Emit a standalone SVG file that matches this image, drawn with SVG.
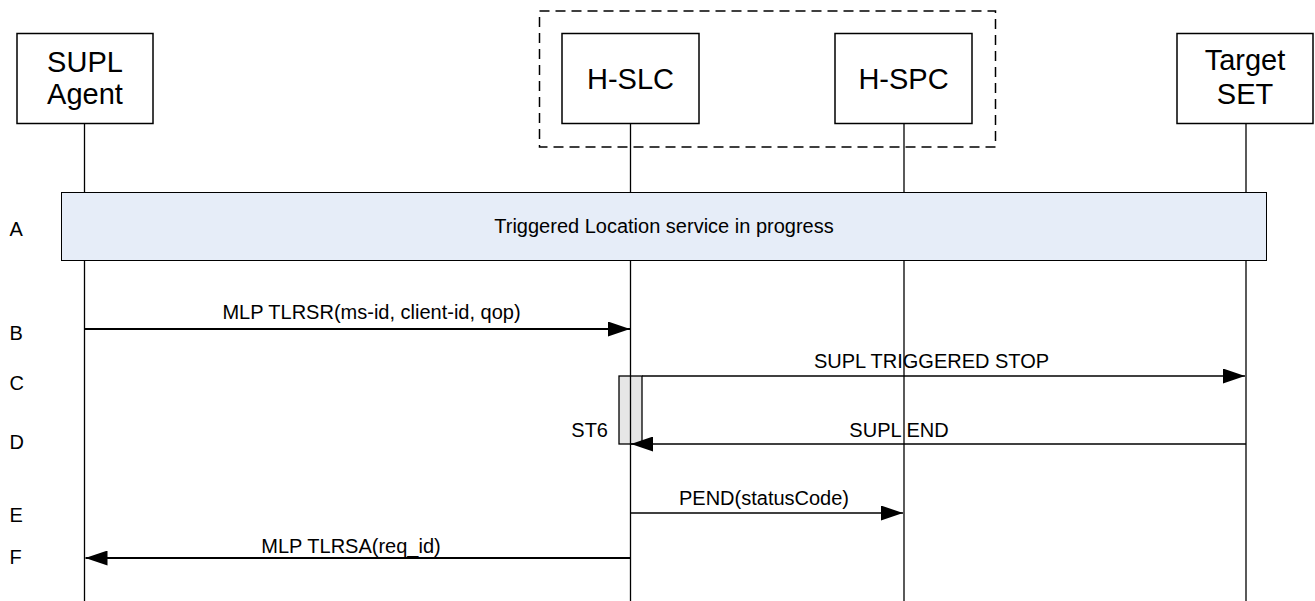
<svg xmlns="http://www.w3.org/2000/svg" width="1315" height="601" viewBox="0 0 1315 601">
<style>
text{font-family:"Liberation Sans",Arial,sans-serif;fill:#000}
.box{fill:#fff;stroke:#000;stroke-width:1.5}
.nl{font-size:29px;text-anchor:middle}
.life{stroke:#000;stroke-width:1.3;fill:none}
.msg{stroke:#000;fill:none}
.lbl{font-size:20px;text-anchor:middle}
.step{font-size:20px}
</style>
<defs>
<marker id="ah" viewBox="0 0 22 15" refX="22" refY="7.5" markerWidth="22" markerHeight="15" markerUnits="userSpaceOnUse" orient="auto">
<path d="M0,0 L22,7.5 L0,15 z" fill="#000"/>
</marker>
</defs>
<rect id="group-box" x="539.5" y="11" width="456" height="136" fill="none" stroke="#000" stroke-width="1.5" stroke-dasharray="10,6"/>
<g id="lifelines">
<line class="life" x1="84.5" y1="124" x2="84.5" y2="601"/>
<line class="life" x1="630.5" y1="124" x2="630.5" y2="601"/>
<line class="life" x1="904" y1="124" x2="904" y2="601"/>
<line class="life" x1="1246" y1="124" x2="1246" y2="601"/>
</g>
<g id="supl-agent">
<rect class="box" x="17" y="33.5" width="136" height="90"/>
<text class="nl" x="85" y="72">SUPL</text>
<text class="nl" x="85" y="104">Agent</text>
</g>
<g id="h-slc">
<rect class="box" x="562" y="33.5" width="137" height="90"/>
<text class="nl" x="630.5" y="89">H-SLC</text>
</g>
<g id="h-spc">
<rect class="box" x="835" y="33.5" width="137" height="90"/>
<text class="nl" x="903.5" y="89">H-SPC</text>
</g>
<g id="target-set">
<rect class="box" x="1177" y="33.5" width="136" height="90"/>
<text class="nl" x="1245" y="70">Target</text>
<text class="nl" x="1245" y="104">SET</text>
</g>
<g id="band">
<rect x="61.5" y="192.5" width="1205" height="68" fill="#e6edf8" stroke="#000" stroke-width="1"/>
<text class="lbl" x="664" y="233">Triggered Location service in progress</text>
</g>
<g id="st6">
<rect x="619" y="376" width="23" height="68" fill="#e6e6e6" stroke="#000" stroke-width="1.3"/>
<line class="life" x1="630.5" y1="376" x2="630.5" y2="444"/>
<text font-size="20" x="608" y="437" text-anchor="end">ST6</text>
</g>
<g id="connectors">
<line class="msg" stroke-width="2" x1="84.5" y1="329" x2="630" y2="329" marker-end="url(#ah)"/>
<text class="lbl" x="371.5" y="319">MLP TLRSR(ms-id, client-id, qop)</text>
<line class="msg" stroke-width="1.6" x1="642" y1="376" x2="1245" y2="376" marker-end="url(#ah)"/>
<text class="lbl" x="931.5" y="368">SUPL TRIGGERED STOP</text>
<line class="msg" stroke-width="1.6" x1="1246" y1="444" x2="631" y2="444" marker-end="url(#ah)"/>
<text class="lbl" x="899" y="437">SUPL END</text>
<line class="msg" stroke-width="1.4" x1="630.5" y1="513" x2="903" y2="513" marker-end="url(#ah)"/>
<text class="lbl" x="764" y="505">PEND(statusCode)</text>
<line class="msg" stroke-width="2" x1="630.5" y1="558" x2="85.5" y2="558" marker-end="url(#ah)"/>
<text class="lbl" x="351" y="553">MLP TLRSA(req_id)</text>
</g>
<g id="steps">
<text class="step" x="9.5" y="236">A</text>
<text class="step" x="9.5" y="340">B</text>
<text class="step" x="9.5" y="390">C</text>
<text class="step" x="9.5" y="449">D</text>
<text class="step" x="9.5" y="522">E</text>
<text class="step" x="9.5" y="564">F</text>
</g>
</svg>
